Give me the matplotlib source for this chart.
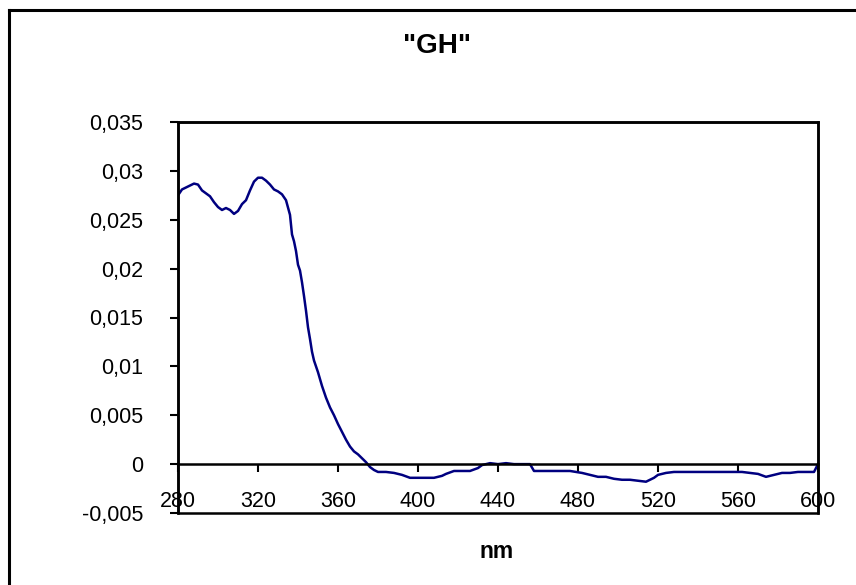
import matplotlib
matplotlib.use("Agg")
import matplotlib.pyplot as plt
from matplotlib.lines import Line2D
from matplotlib.patches import Rectangle

plt.rcParams['font.family'] = ['Liberation Sans', 'DejaVu Sans']

# wavelength (nm) and absorbance
nm = [280, 282, 284, 286, 288, 290, 292, 294, 296, 298,
      300, 302, 304, 306, 308, 310, 312, 314, 316, 318,
      320, 322, 324, 326, 328, 330, 332, 334, 336, 337,
      338, 339, 340, 341, 342, 343, 344, 345, 346, 347,
      348, 350, 352, 354, 356, 358, 360, 362, 364, 366,
      368, 370, 372, 374, 376, 378, 380, 384, 388, 392,
      396, 400, 404, 408, 412, 414, 418, 422, 426, 430,
      432, 436, 440, 444, 448, 452, 456, 458, 464, 470,
      476, 482, 486, 490, 494, 498, 502, 506, 510, 514,
      518, 520, 524, 528, 532, 536, 540, 546, 552, 558,
      562, 566, 570, 574, 578, 582, 586, 590, 594, 598,
      600]
absorb = [0.0275, 0.0281, 0.0283, 0.0285, 0.0287, 0.0286, 0.0280, 0.0277, 0.0274, 0.0268,
          0.0263, 0.0260, 0.0262, 0.0260, 0.0256, 0.0259, 0.0266, 0.0270, 0.0280, 0.0289,
          0.0293, 0.0293, 0.0290, 0.0286, 0.0281, 0.0279, 0.0276, 0.0270, 0.0255, 0.0235,
          0.0228, 0.0218, 0.0204, 0.0198, 0.0186, 0.0172, 0.0157, 0.0140, 0.0128, 0.0115,
          0.0106, 0.0094, 0.0080, 0.0068, 0.0058, 0.0050, 0.0041, 0.0033, 0.0025, 0.0018,
          0.0013, 0.0010, 0.0006, 0.0002, -0.0003, -0.0006, -0.0008, -0.0008, -0.0009, -0.0011,
          -0.0014, -0.0014, -0.0014, -0.0014, -0.0012, -0.0010, -0.0007, -0.0007, -0.0007, -0.0004,
          -0.0001, 0.0001, 0.0000, 0.0001, 0.0000, 0.0000, 0.0000, -0.0007, -0.0007, -0.0007,
          -0.0007, -0.0009, -0.0011, -0.0013, -0.0013, -0.0015, -0.0016, -0.0016, -0.0017, -0.0018,
          -0.0014, -0.0011, -0.0009, -0.0008, -0.0008, -0.0008, -0.0008, -0.0008, -0.0008, -0.0008,
          -0.0008, -0.0009, -0.0010, -0.0013, -0.0011, -0.0009, -0.0009, -0.0008, -0.0008, -0.0008,
          0.0000]

x_ticks = [280, 320, 360, 400, 440, 480, 520, 560, 600]
y_ticks = [-0.005, 0, 0.005, 0.01, 0.015, 0.02, 0.025, 0.03, 0.035]
y_labels = ['-0,005', '0', '0,005', '0,01', '0,015', '0,02', '0,025', '0,03', '0,035']

fig = plt.figure(figsize=(8.56, 5.85), dpi=100)
ax = fig.add_axes([178 / 856, 1 - 513 / 585, 640 / 856, 391 / 585])

ax.plot(nm, absorb, color='#000080', lw=1.8)

ax.set_xlim(280, 600)
ax.set_ylim(-0.005, 0.035)

# x axis crosses at zero, frame drawn separately
ax.spines['bottom'].set_position(('data', 0))
for s in ax.spines.values():
    s.set_linewidth(1.8)
ax.add_patch(Rectangle((0, 0), 1, 1, transform=ax.transAxes, fill=False,
                       edgecolor='black', lw=1.8, clip_on=False, zorder=5))

ax.set_xticks(x_ticks)
ax.set_xticklabels([str(v) for v in x_ticks])
ax.set_yticks(y_ticks)
ax.set_yticklabels(y_labels)
ax.tick_params(axis='x', direction='out', length=6, width=1.5, pad=13, labelsize=15.5)
ax.tick_params(axis='y', direction='out', length=6, width=1.5, pad=19, labelsize=15.5)

fig.text(437 / 856, 1 - 46 / 585, '"GH"', fontsize=20, fontweight='bold',
         ha='center', va='center')
fig.text(497 / 856, 1 - 552 / 585, 'nm', fontsize=16.5, fontweight='bold',
         ha='center', va='center')

# outer chart border (left and top visible)
fig.add_artist(Line2D([9 / 856, 9 / 856], [0, 1 - 10 / 585], color='black', lw=2.2))
fig.add_artist(Line2D([9 / 856, 1], [1 - 10 / 585, 1 - 10 / 585], color='black', lw=2.2))

fig.savefig('out.png', dpi=100)
